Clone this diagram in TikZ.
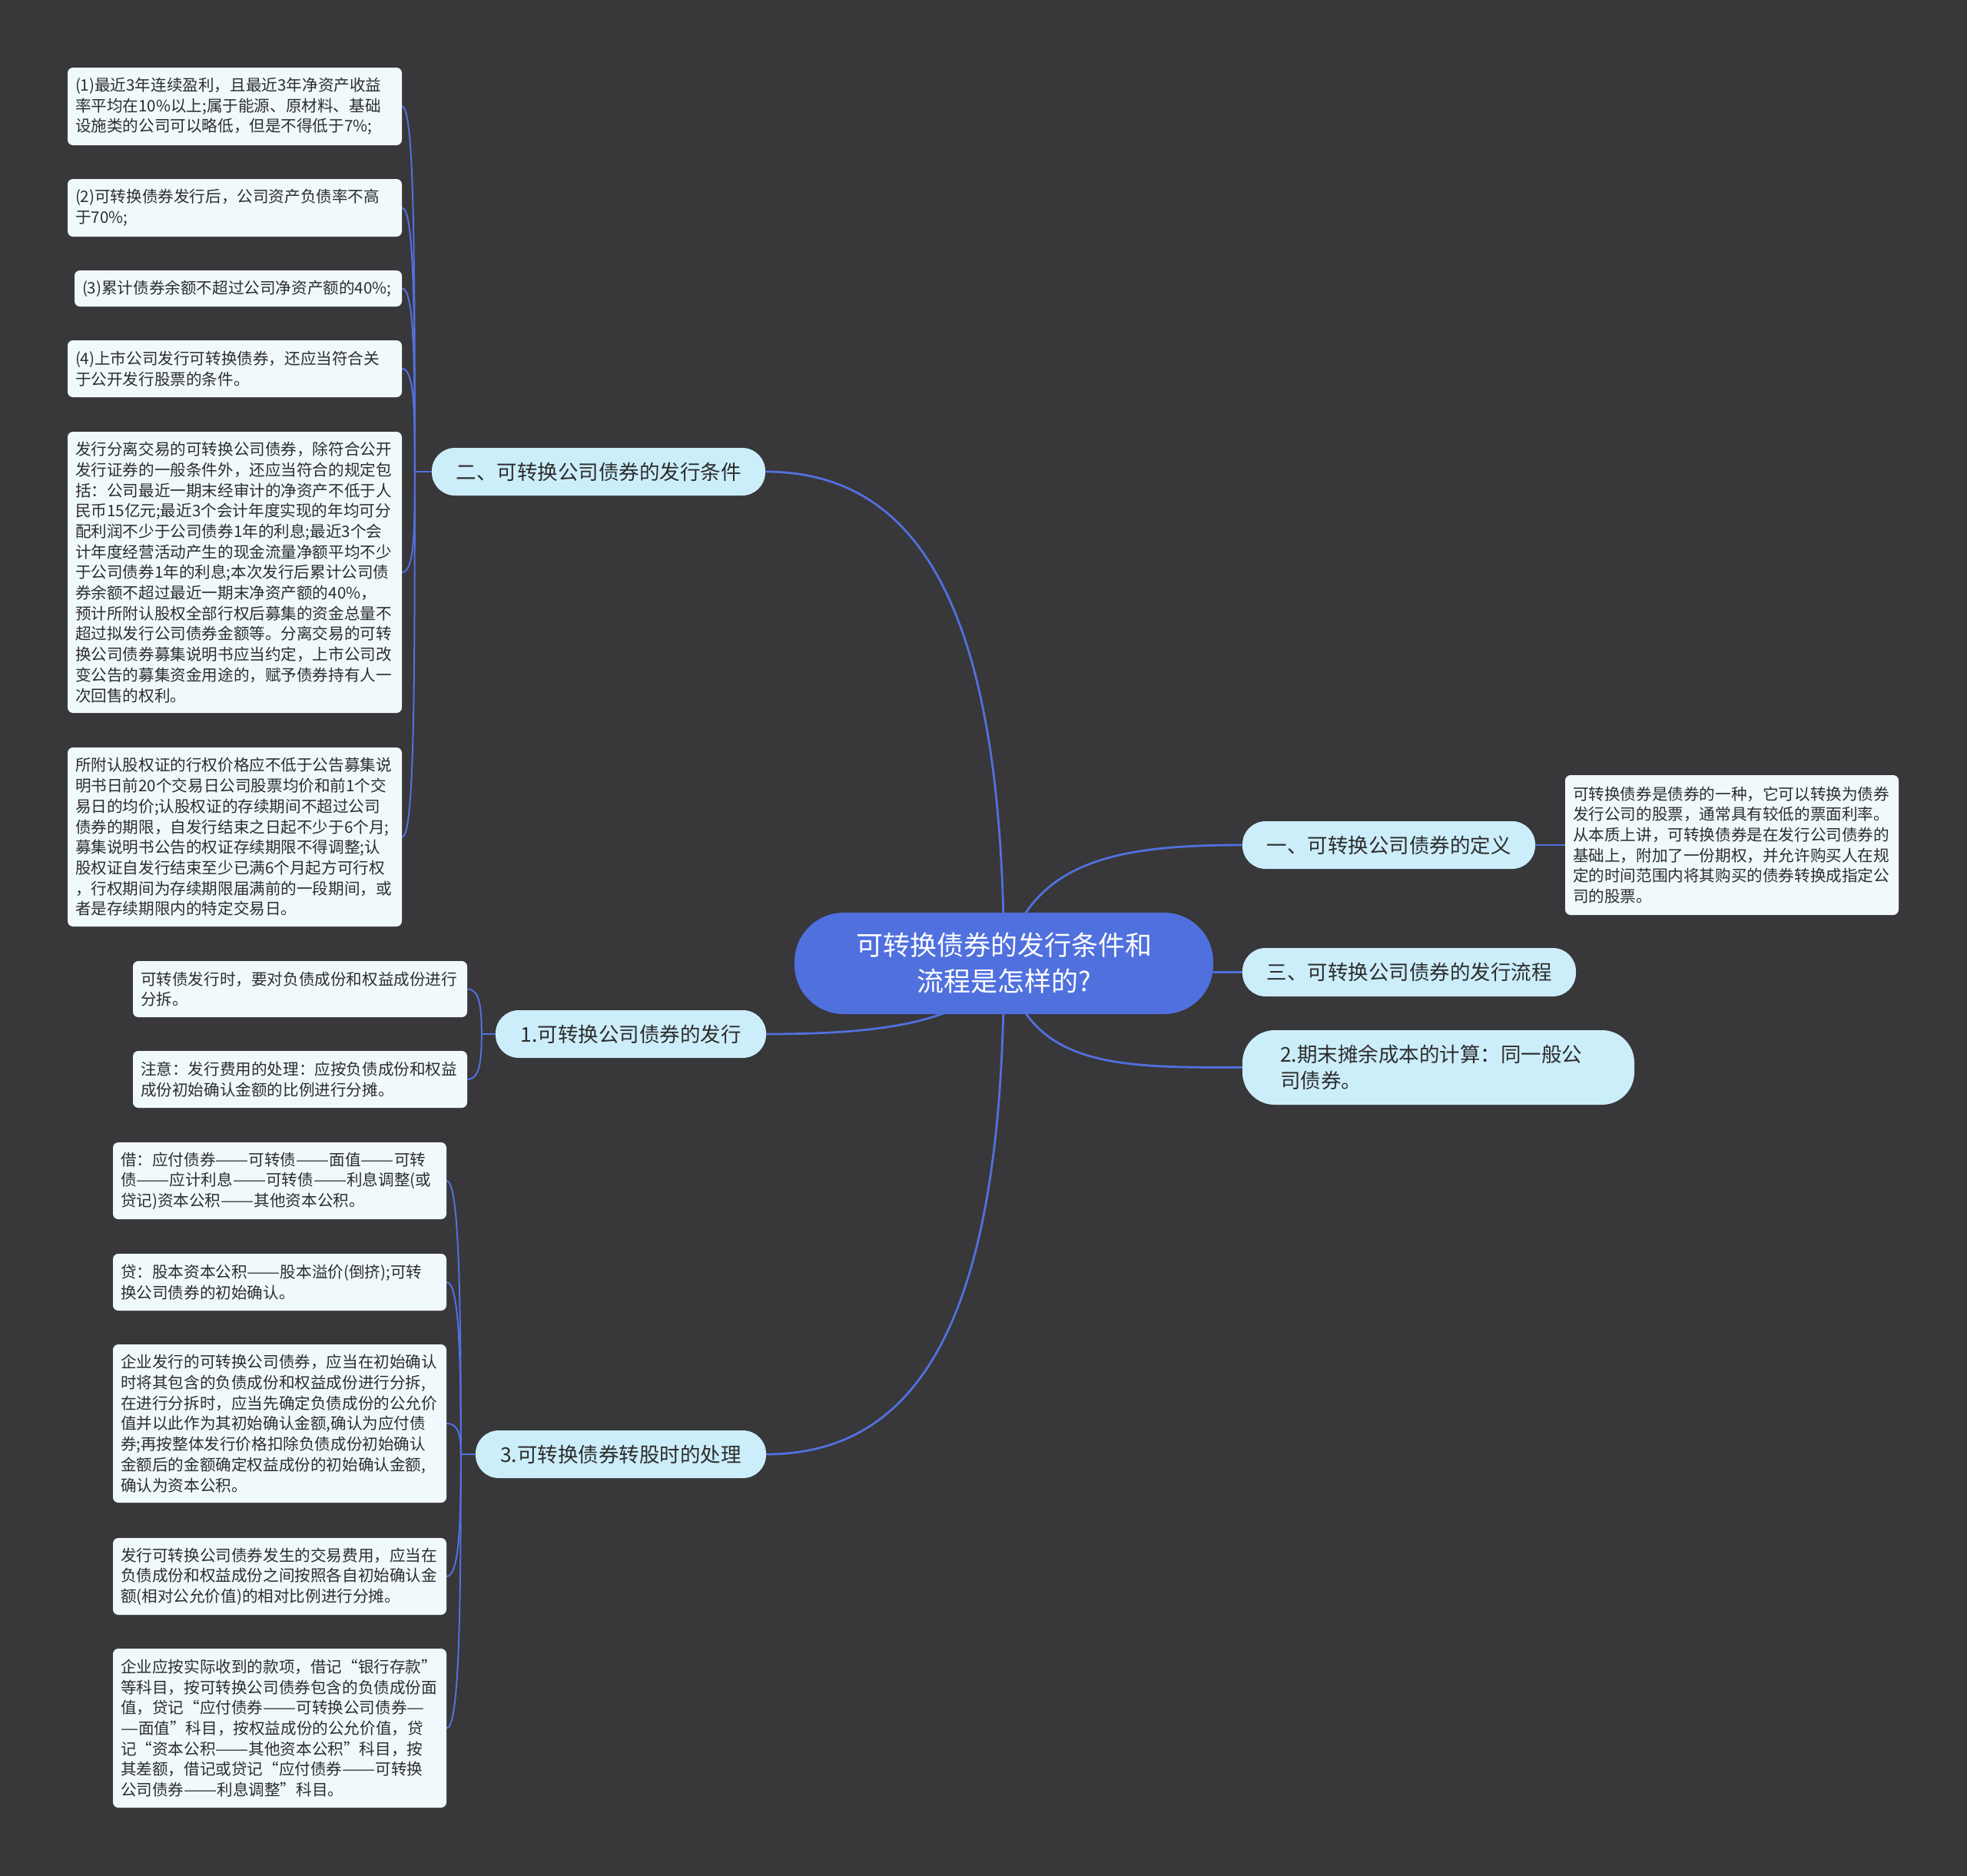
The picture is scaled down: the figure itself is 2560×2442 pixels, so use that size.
\documentclass[tikz,border=0pt]{standalone}
\usepackage{fontspec}
\usepackage{graphicx}
\newfontfamily\cjk{Noto Sans CJK SC}
\newcommand\dd{\scalebox{1.25}[1]{——}}
\newcommand\ddd{\scalebox{1.25}[1]{—}}
\usetikzlibrary{calc}
\definecolor{bgc}{RGB}{56,55,57}
\definecolor{linec}{RGB}{82,112,222}
\definecolor{rootc}{RGB}{80,112,222}
\definecolor{lvc}{RGB}{204,238,251}
\definecolor{leafc}{RGB}{240,250,253}
\definecolor{txt}{RGB}{45,45,45}
\pgfdeclarelayer{bg}
\pgfsetlayers{bg,main}
\hfuzz=1000pt \hbadness=10000 \vbadness=10000
\begin{document}
\begin{tikzpicture}[x=1pt,y=-1pt,
  conn/.style={draw=linec, line width=2.8pt, line cap=round},
  subconn/.style={draw=linec, line width=2pt, line cap=round},
  leaf/.style={fill=leafc, rounded corners=7pt, text=txt, font=\cjk\fontsize{20.6pt}{26.7pt}\selectfont, align=left, inner xsep=10pt, inner ysep=0pt},
  lvl/.style={fill=lvc, text=txt, font=\cjk\fontsize{26.5pt}{34pt}\selectfont, align=center, inner sep=0pt, rounded corners=30pt, minimum height=62pt},
  rootn/.style={fill=rootc, text=white, font=\cjk\fontsize{35pt}{47pt}\selectfont, align=center, inner sep=0pt, rounded corners=64pt}]
\begin{pgfonlayer}{bg}
\fill[bgc] (0,0) rectangle (2560,2442);
\end{pgfonlayer}
\useasboundingbox (0,0) rectangle (2560,2442);

% root
\node[rootn, minimum width=545pt, minimum height=132pt] (root) at (1306.5,1254) {可转换债券的发行条件和\\流程是怎样的?};

% level 1
\node[lvl, minimum width=434pt] (n2) at (779,614) {二、可转换公司债券的发行条件};
\node[lvl, minimum width=352pt] (n1) at (821,1346) {1.可转换公司债券的发行};
\node[lvl, minimum width=378pt] (n3) at (808,1893) {3.可转换债券转股时的处理};
\node[lvl, minimum width=381pt] (m1) at (1807.5,1100) {一、可转换公司债券的定义};
\node[lvl, minimum width=434pt, minimum height=63pt] (m3) at (1834,1265.5) {三、可转换公司债券的发行流程};
\node[lvl, align=left, text width=412pt, inner xsep=49pt, minimum height=97pt, rounded corners=42pt] (m2) at (1872,1389.5) {2.期末摊余成本的计算：同一般公\\司债券。};

% leaves of 二
\node[leaf, text width=415pt, minimum height=101pt] (b1) at (305.5,138.5) {(1)最近3年连续盈利，且最近3年净资产收益\\率平均在10\%以上;属于能源、原材料、基础\\设施类的公司可以略低，但是不得低于7\%;};
\node[leaf, text width=415pt, minimum height=75pt] (b2) at (305.5,270.5) {(2)可转换债券发行后，公司资产负债率不高\\于70\%;};
\node[leaf, text width=406pt, minimum height=47pt] (b3) at (310,375.5) {(3)累计债券余额不超过公司净资产额的40\%;};
\node[leaf, text width=415pt, minimum height=74pt] (b4) at (305.5,480) {(4)上市公司发行可转换债券，还应当符合关\\于公开发行股票的条件。};
\node[leaf, text width=415pt, minimum height=366pt] (b5) at (305.5,745) {发行分离交易的可转换公司债券，除符合公开\\发行证券的一般条件外，还应当符合的规定包\\括：公司最近一期末经审计的净资产不低于人\\民币15亿元;最近3个会计年度实现的年均可分\\配利润不少于公司债券1年的利息;最近3个会\\计年度经营活动产生的现金流量净额平均不少\\于公司债券1年的利息;本次发行后累计公司债\\券余额不超过最近一期末净资产额的40\%，\\预计所附认股权全部行权后募集的资金总量不\\超过拟发行公司债券金额等。分离交易的可转\\换公司债券募集说明书应当约定，上市公司改\\变公告的募集资金用途的，赋予债券持有人一\\次回售的权利。};
\node[leaf, text width=415pt, minimum height=233pt] (b6) at (305.5,1089.5) {所附认股权证的行权价格应不低于公告募集说\\明书日前20个交易日公司股票均价和前1个交\\易日的均价;认股权证的存续期间不超过公司\\债券的期限，自发行结束之日起不少于6个月;\\募集说明书公告的权证存续期限不得调整;认\\股权证自发行结束至少已满6个月起方可行权\\，行权期间为存续期限届满前的一段期间，或\\者是存续期限内的特定交易日。};

% leaves of 1.
\node[leaf, text width=415pt, minimum height=73pt] (a1) at (390.5,1287.5) {可转债发行时，要对负债成份和权益成份进行\\分拆。};
\node[leaf, text width=415pt, minimum height=74pt] (a2) at (390.5,1405) {注意：发行费用的处理：应按负债成份和权益\\成份初始确认金额的比例进行分摊。};

% leaves of 3.
\node[leaf, text width=414pt, minimum height=100pt] (c1) at (364,1537) {借：应付债券\dd 可转债\dd 面值\dd 可转\\债\dd 应计利息\dd 可转债\dd 利息调整(或\\贷记)资本公积\dd 其他资本公积。};
\node[leaf, text width=414pt, minimum height=74pt] (c2) at (364,1669) {贷：股本资本公积\dd 股本溢价(倒挤);可转\\换公司债券的初始确认。};
\node[leaf, text width=414pt, minimum height=206pt] (c3) at (364,1853) {企业发行的可转换公司债券，应当在初始确认\\时将其包含的负债成份和权益成份进行分拆,\\在进行分拆时，应当先确定负债成份的公允价\\值并以此作为其初始确认金额,确认为应付债\\券;再按整体发行价格扣除负债成份初始确认\\金额后的金额确定权益成份的初始确认金额,\\确认为资本公积。};
\node[leaf, text width=414pt, minimum height=100pt] (c4) at (364,2052) {发行可转换公司债券发生的交易费用，应当在\\负债成份和权益成份之间按照各自初始确认金\\额(相对公允价值)的相对比例进行分摊。};
\node[leaf, text width=414pt, minimum height=207pt] (c5) at (364,2249.5) {企业应按实际收到的款项，借记“银行存款”\\等科目，按可转换公司债券包含的负债成份面\\值，贷记“应付债券\dd 可转换公司债券\ddd\\\ddd 面值”科目，按权益成份的公允价值，贷\\记“资本公积\dd 其他资本公积”科目，按\\其差额，借记或贷记“应付债券\dd 可转换\\公司债券\dd 利息调整”科目。};

% definition leaf
\node[leaf, text width=414pt, minimum height=182pt] (d1) at (2254,1100) {可转换债券是债券的一种，它可以转换为债券\\发行公司的股票，通常具有较低的票面利率。\\从本质上讲，可转换债券是在发行公司债券的\\基础上，附加了一份期权，并允许购买人在规\\定的时间范围内将其购买的债券转换成指定公\\司的股票。};

\coordinate (j2) at ($(n2.west)+(-22,0)$);
\coordinate (j1) at ($(n1.west)+(-18,0)$);
\coordinate (j3) at ($(n3.west)+(-19,0)$);

\begin{pgfonlayer}{bg}
% root connectors
\draw[conn] (root.center) .. controls +(0,-453) and +(204,0) .. (n2.east);
\draw[conn] (root.center) .. controls +(0,452) and +(204,0) .. (n3.east);
\draw[conn] (root.center) .. controls +(-36,77) and +(153,0) .. (n1.east);
\draw[conn] (root.center) .. controls +(34,-133) and +(-167,0) .. (m1.west);
\draw[conn] (root.east |- m3.west) -- (m3.west);
\draw[conn] (root.center) .. controls +(34,136) and +(-167,0) .. (m2.west);
\draw[subconn] (m1.east) -- (d1.west);
% sub connectors
\draw[subconn] (n2.west) -- (j2);
\foreach \b in {b1,b2,b3,b4,b5,b6}
  \draw[subconn] (\b.east) .. controls +(16,0) and ($(j2)!0.6!(j2|-\b.east)$) .. (j2);
\draw[subconn] (n1.west) -- (j1);
\foreach \b in {a1,a2}
  \draw[subconn] (\b.east) .. controls +(16,0) and ($(j1)!0.6!(j1|-\b.east)$) .. (j1);
\draw[subconn] (n3.west) -- (j3);
\foreach \b in {c1,c2,c3,c4,c5}
  \draw[subconn] (\b.east) .. controls +(16,0) and ($(j3)!0.6!(j3|-\b.east)$) .. (j3);
\end{pgfonlayer}
\end{tikzpicture}
\end{document}
